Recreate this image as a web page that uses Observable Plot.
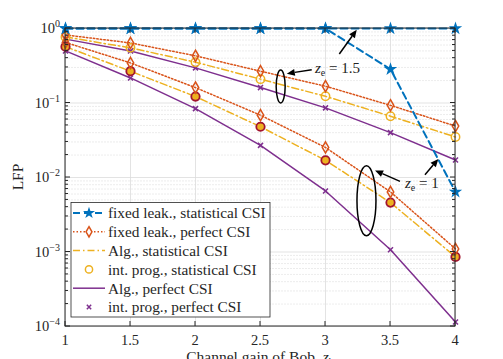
<!DOCTYPE html>
<html><head><meta charset="utf-8">
<script src="https://cdn.jsdelivr.net/npm/d3@7"></script>
<script src="https://cdn.jsdelivr.net/npm/@observablehq/plot@0.6"></script>
<style>body{margin:0;background:#fff}</style>
</head><body><div id="chart"></div>
<script>
const xVals = [1, 1.5, 2, 2.5, 3, 3.5, 4];
const fixedStat15 = [1, 1, 1, 1, 1, 1, 1];
const fixedStat1 = [1, 1, 1, 1, 1, 0.284, 0.0064];
const fixedPerf15 = [0.82, 0.64, 0.43, 0.267, 0.168, 0.093, 0.049];
const fixedPerf1 = [0.65, 0.345, 0.161, 0.0686, 0.0253, 0.0064, 0.0011];
const algStat15 = [0.77, 0.55, 0.353, 0.209, 0.123, 0.0665, 0.035];
const algStat1 = [0.57, 0.267, 0.122, 0.048, 0.017, 0.0046, 0.00086];
const algPerf15 = [0.72, 0.50, 0.296, 0.161, 0.086, 0.040, 0.0172];
const algPerf1 = [0.50, 0.217, 0.084, 0.027, 0.0066, 0.00107, 0.000115];
const xTicks = [1, 1.5, 2, 2.5, 3, 3.5, 4];
const yTicks = [1e-4, 1e-3, 1e-2, 1e-1, 1];
const yTickExp = ["\u22124", "\u22123", "\u22122", "\u22121", "0"];
const legendLabels = ["fixed leak., statistical CSI", "fixed leak., perfect CSI", "Alg., statistical CSI",
  "int. prog., statistical CSI", "Alg., perfect CSI", "int. prog., perfect CSI"];
const xLabel = "Channel gain of Bob, ";
const yLabel = "LFP";
// annotations (data coordinates)
const ellipseCenters = [[2.659, 0.164], [3.319, 0.0048]];
const ellipseRadii = [[4.5, 16.5], [9.5, 35]];
const annoTexts = ["1.5", "1"];
const annoTextPos = [[2.923, 0.293], [3.615, 0.0084]];
const arrows = [
  [[2.898, 0.276], [2.706, 0.244]],
  [[3.110, 0.448], [3.244, 0.949]],
  [[3.577, 0.00873], [3.385, 0.01227]],
  [[3.769, 0.01074], [3.872, 0.01745]]
];

const C = {blue: "#0072BD", orange: "#D95319", yellow: "#EDB120", purple: "#7E2F8E", red: "#A2142F"};
const FONT = "'Liberation Serif', serif";
const tbl = arr => xVals.map((x, i) => ({x, y: arr[i]}));
const minorTicks = d3.scaleLog().domain([1e-4, 1]).ticks();

const lineStyles = [
  {stroke: C.blue, strokeWidth: 2, strokeDasharray: "7,4"},
  {stroke: C.orange, strokeWidth: 1.5, strokeDasharray: "1.5,2"},
  {stroke: C.yellow, strokeWidth: 1.5, strokeDasharray: "7,3,1.5,3"},
  null,
  {stroke: C.purple, strokeWidth: 1.5},
  null
];

function annotations(index, scales, values, dim) {
  const {x, y} = scales;
  const g = d3.create("svg:g").attr("font-family", FONT).attr("text-anchor", "start");
  ellipseCenters.forEach(([cx, cy], i) => {
    g.append("ellipse").attr("cx", x(cx)).attr("cy", y(cy))
      .attr("rx", ellipseRadii[i][0]).attr("ry", ellipseRadii[i][1])
      .attr("fill", "none").attr("stroke", "black").attr("stroke-width", 1.5);
  });
  arrows.forEach(([[x1, y1], [x2, y2]]) => {
    const X1 = x(x1), Y1 = y(y1), X2 = x(x2), Y2 = y(y2);
    const a = Math.atan2(Y2 - Y1, X2 - X1), L = 8, W = 3.5;
    const bx = X2 - L * Math.cos(a), by = Y2 - L * Math.sin(a);
    g.append("line").attr("x1", X1).attr("y1", Y1).attr("x2", bx).attr("y2", by)
      .attr("stroke", "black").attr("stroke-width", 1.5);
    g.append("path").attr("d", `M${X2},${Y2}L${bx + W * Math.sin(a)},${by - W * Math.cos(a)}L${bx - W * Math.sin(a)},${by + W * Math.cos(a)}Z`)
      .attr("fill", "black");
  });
  annoTextPos.forEach(([tx, ty], i) => {
    const t = g.append("text").attr("x", x(tx)).attr("y", y(ty)).attr("dy", "0.35em")
      .attr("font-size", 15).attr("fill", "#222");
    t.append("tspan").attr("font-style", "italic").text("z");
    t.append("tspan").attr("font-size", 10).attr("dy", 3).text("e");
    t.append("tspan").attr("dy", -3).text(" = " + annoTexts[i]);
  });
  return g.node();
}

function frameAndLabels(index, scales, values, dim) {
  const {x, y} = scales;
  const {width, height, marginLeft, marginRight, marginTop, marginBottom} = dim;
  const L = marginLeft, R = width - marginRight, T = marginTop, B = height - marginBottom;
  const g = d3.create("svg:g").attr("font-family", FONT).attr("fill", "#262626");
  minorTicks.forEach(v => {
    const yy = y(v), major = yTicks.includes(v);
    const len = major ? 5 : 3;
    g.append("line").attr("x1", L).attr("x2", L + len).attr("y1", yy).attr("y2", yy).attr("stroke", "#262626");
    g.append("line").attr("x1", R).attr("x2", R - len).attr("y1", yy).attr("y2", yy).attr("stroke", "#262626");
  });
  xTicks.forEach(v => {
    g.append("line").attr("x1", x(v)).attr("x2", x(v)).attr("y1", B).attr("y2", B - 5).attr("stroke", "#262626");
    g.append("line").attr("x1", x(v)).attr("x2", x(v)).attr("y1", T).attr("y2", T + 5).attr("stroke", "#262626");
    g.append("text").attr("x", x(v)).attr("y", B + 14).attr("dy", "0.35em").attr("text-anchor", "middle")
      .attr("font-size", 14.5).text(String(v));
  });
  yTicks.forEach((v, i) => {
    const t = g.append("text").attr("x", L - 5).attr("y", y(v)).attr("dy", "0.35em").attr("text-anchor", "end")
      .attr("font-size", 14.5);
    t.append("tspan").text("10");
    t.append("tspan").attr("font-size", 10).attr("dy", -6).text(yTickExp[i]);
  });
  const xl = g.append("text").attr("x", (L + R) / 2).attr("y", B + 36).attr("text-anchor", "middle")
    .attr("font-size", 15.5);
  xl.append("tspan").text(xLabel);
  xl.append("tspan").attr("font-style", "italic").text("z");
  xl.append("tspan").attr("font-size", 10).attr("dy", 3).text("b");
  g.append("text").attr("transform", `translate(${23},${(T + B) / 2}) rotate(-90)`).attr("text-anchor", "middle")
    .attr("font-size", 15.5).text(yLabel);
  g.append("rect").attr("x", L).attr("y", T).attr("width", R - L).attr("height", B - T)
    .attr("fill", "none").attr("stroke", "#262626").attr("stroke-width", 1);
  return g.node();
}

function legend(index, scales, values, dim) {
  const {height, marginLeft, marginBottom} = dim;
  const L = marginLeft + 6, B = height - marginBottom - 9;
  const rowH = 18.8, boxH = 114.6, boxW = 199;
  const T = B - boxH;
  const g = d3.create("svg:g").attr("font-family", FONT).attr("text-anchor", "start");
  g.append("rect").attr("x", L).attr("y", T).attr("width", boxW).attr("height", boxH)
    .attr("fill", "white").attr("stroke", "#262626").attr("stroke-width", 0.8);
  legendLabels.forEach((lab, i) => {
    const yy = T + 10.6 + i * rowH;
    const st = lineStyles[i];
    if (st) {
      const ln = g.append("line").attr("x1", L + 2).attr("x2", L + 34).attr("y1", yy).attr("y2", yy)
        .attr("stroke", st.stroke).attr("stroke-width", st.strokeWidth);
      if (st.strokeDasharray) ln.attr("stroke-dasharray", st.strokeDasharray);
    }
    const cx = L + 18;
    if (i === 0) g.append("path").attr("transform", `translate(${cx},${yy})`).attr("d", d3.symbol(d3.symbolStar, 45)()).attr("fill", C.blue);
    if (i === 1) g.append("path").attr("transform", `translate(${cx},${yy})`).attr("d", d3.symbol(d3.symbolDiamond, 30)()).attr("fill", "white").attr("stroke", C.orange).attr("stroke-width", 1.5);
    if (i === 3) g.append("circle").attr("cx", cx).attr("cy", yy).attr("r", 3.6).attr("fill", "none").attr("stroke", C.yellow).attr("stroke-width", 1.5);
    if (i === 5) g.append("path").attr("transform", `translate(${cx},${yy})`).attr("d", d3.symbol(d3.symbolTimes, 14)()).attr("fill", "none").attr("stroke", C.purple).attr("stroke-width", 1.5);
    g.append("text").attr("x", L + 37).attr("y", yy).attr("dy", "0.35em").attr("font-size", 15.3).attr("fill", "#262626").text(lab);
  });
  return g.node();
}

const chart = Plot.plot({
  width: 503, height: 359,
  marginLeft: 65, marginRight: 48, marginTop: 28, marginBottom: 33,
  x: {domain: [1, 4], axis: null},
  y: {type: "log", domain: [1e-4, 1], axis: null},
  style: {fontFamily: FONT, background: "white"},
  marks: [
    Plot.ruleY(minorTicks.filter(v => !yTicks.includes(v)), {y: d => d, stroke: "#e4e4e4", strokeWidth: 0.7, strokeDasharray: "2,1"}),
    Plot.ruleY(yTicks, {y: d => d, stroke: "#dcdcdc", strokeWidth: 0.8}),
    Plot.ruleX(xTicks, {x: d => d, stroke: "#dcdcdc", strokeWidth: 0.8}),
    Plot.line(tbl(algPerf15), {x: "x", y: "y", ...lineStyles[4]}),
    Plot.line(tbl(algPerf1), {x: "x", y: "y", ...lineStyles[4]}),
    Plot.line(tbl(algStat15), {x: "x", y: "y", ...lineStyles[2]}),
    Plot.line(tbl(algStat1), {x: "x", y: "y", ...lineStyles[2]}),
    Plot.line(tbl(fixedPerf15), {x: "x", y: "y", ...lineStyles[1]}),
    Plot.line(tbl(fixedPerf1), {x: "x", y: "y", ...lineStyles[1]}),
    Plot.dot(tbl(algPerf15), {x: "x", y: "y", symbol: "times", r: 2.4, stroke: C.purple, strokeWidth: 1.5}),
    Plot.dot(tbl(algPerf1), {x: "x", y: "y", symbol: "times", r: 2.4, stroke: C.purple, strokeWidth: 1.5}),
    Plot.dot(tbl(algStat15), {x: "x", y: "y", symbol: "circle", r: 4.2, stroke: C.yellow, fill: "none", strokeWidth: 1.5}),
    Plot.dot(tbl(algStat1), {x: "x", y: "y", symbol: "circle", r: 4.2, stroke: C.red, fill: C.yellow, strokeWidth: 1.8}),
    Plot.dot(tbl(fixedPerf15), {x: "x", y: "y", symbol: "diamond", r: 3.4, stroke: C.orange, fill: "none", strokeWidth: 1.5}),
    Plot.dot(tbl(fixedPerf1), {x: "x", y: "y", symbol: "diamond", r: 3.4, stroke: C.orange, fill: "none", strokeWidth: 1.5}),
    Plot.line(tbl(fixedStat1), {x: "x", y: "y", ...lineStyles[0]}),
    Plot.line(tbl(fixedStat15), {x: "x", y: "y", ...lineStyles[0]}),
    Plot.dot(tbl(fixedStat1), {x: "x", y: "y", symbol: "star", r: 4.2, fill: C.blue}),
    Plot.dot(tbl(fixedStat15), {x: "x", y: "y", symbol: "star", r: 4.2, fill: C.blue}),
    frameAndLabels,
    annotations,
    legend
  ]
});
document.getElementById("chart").appendChild(chart);
</script>
</body></html>
